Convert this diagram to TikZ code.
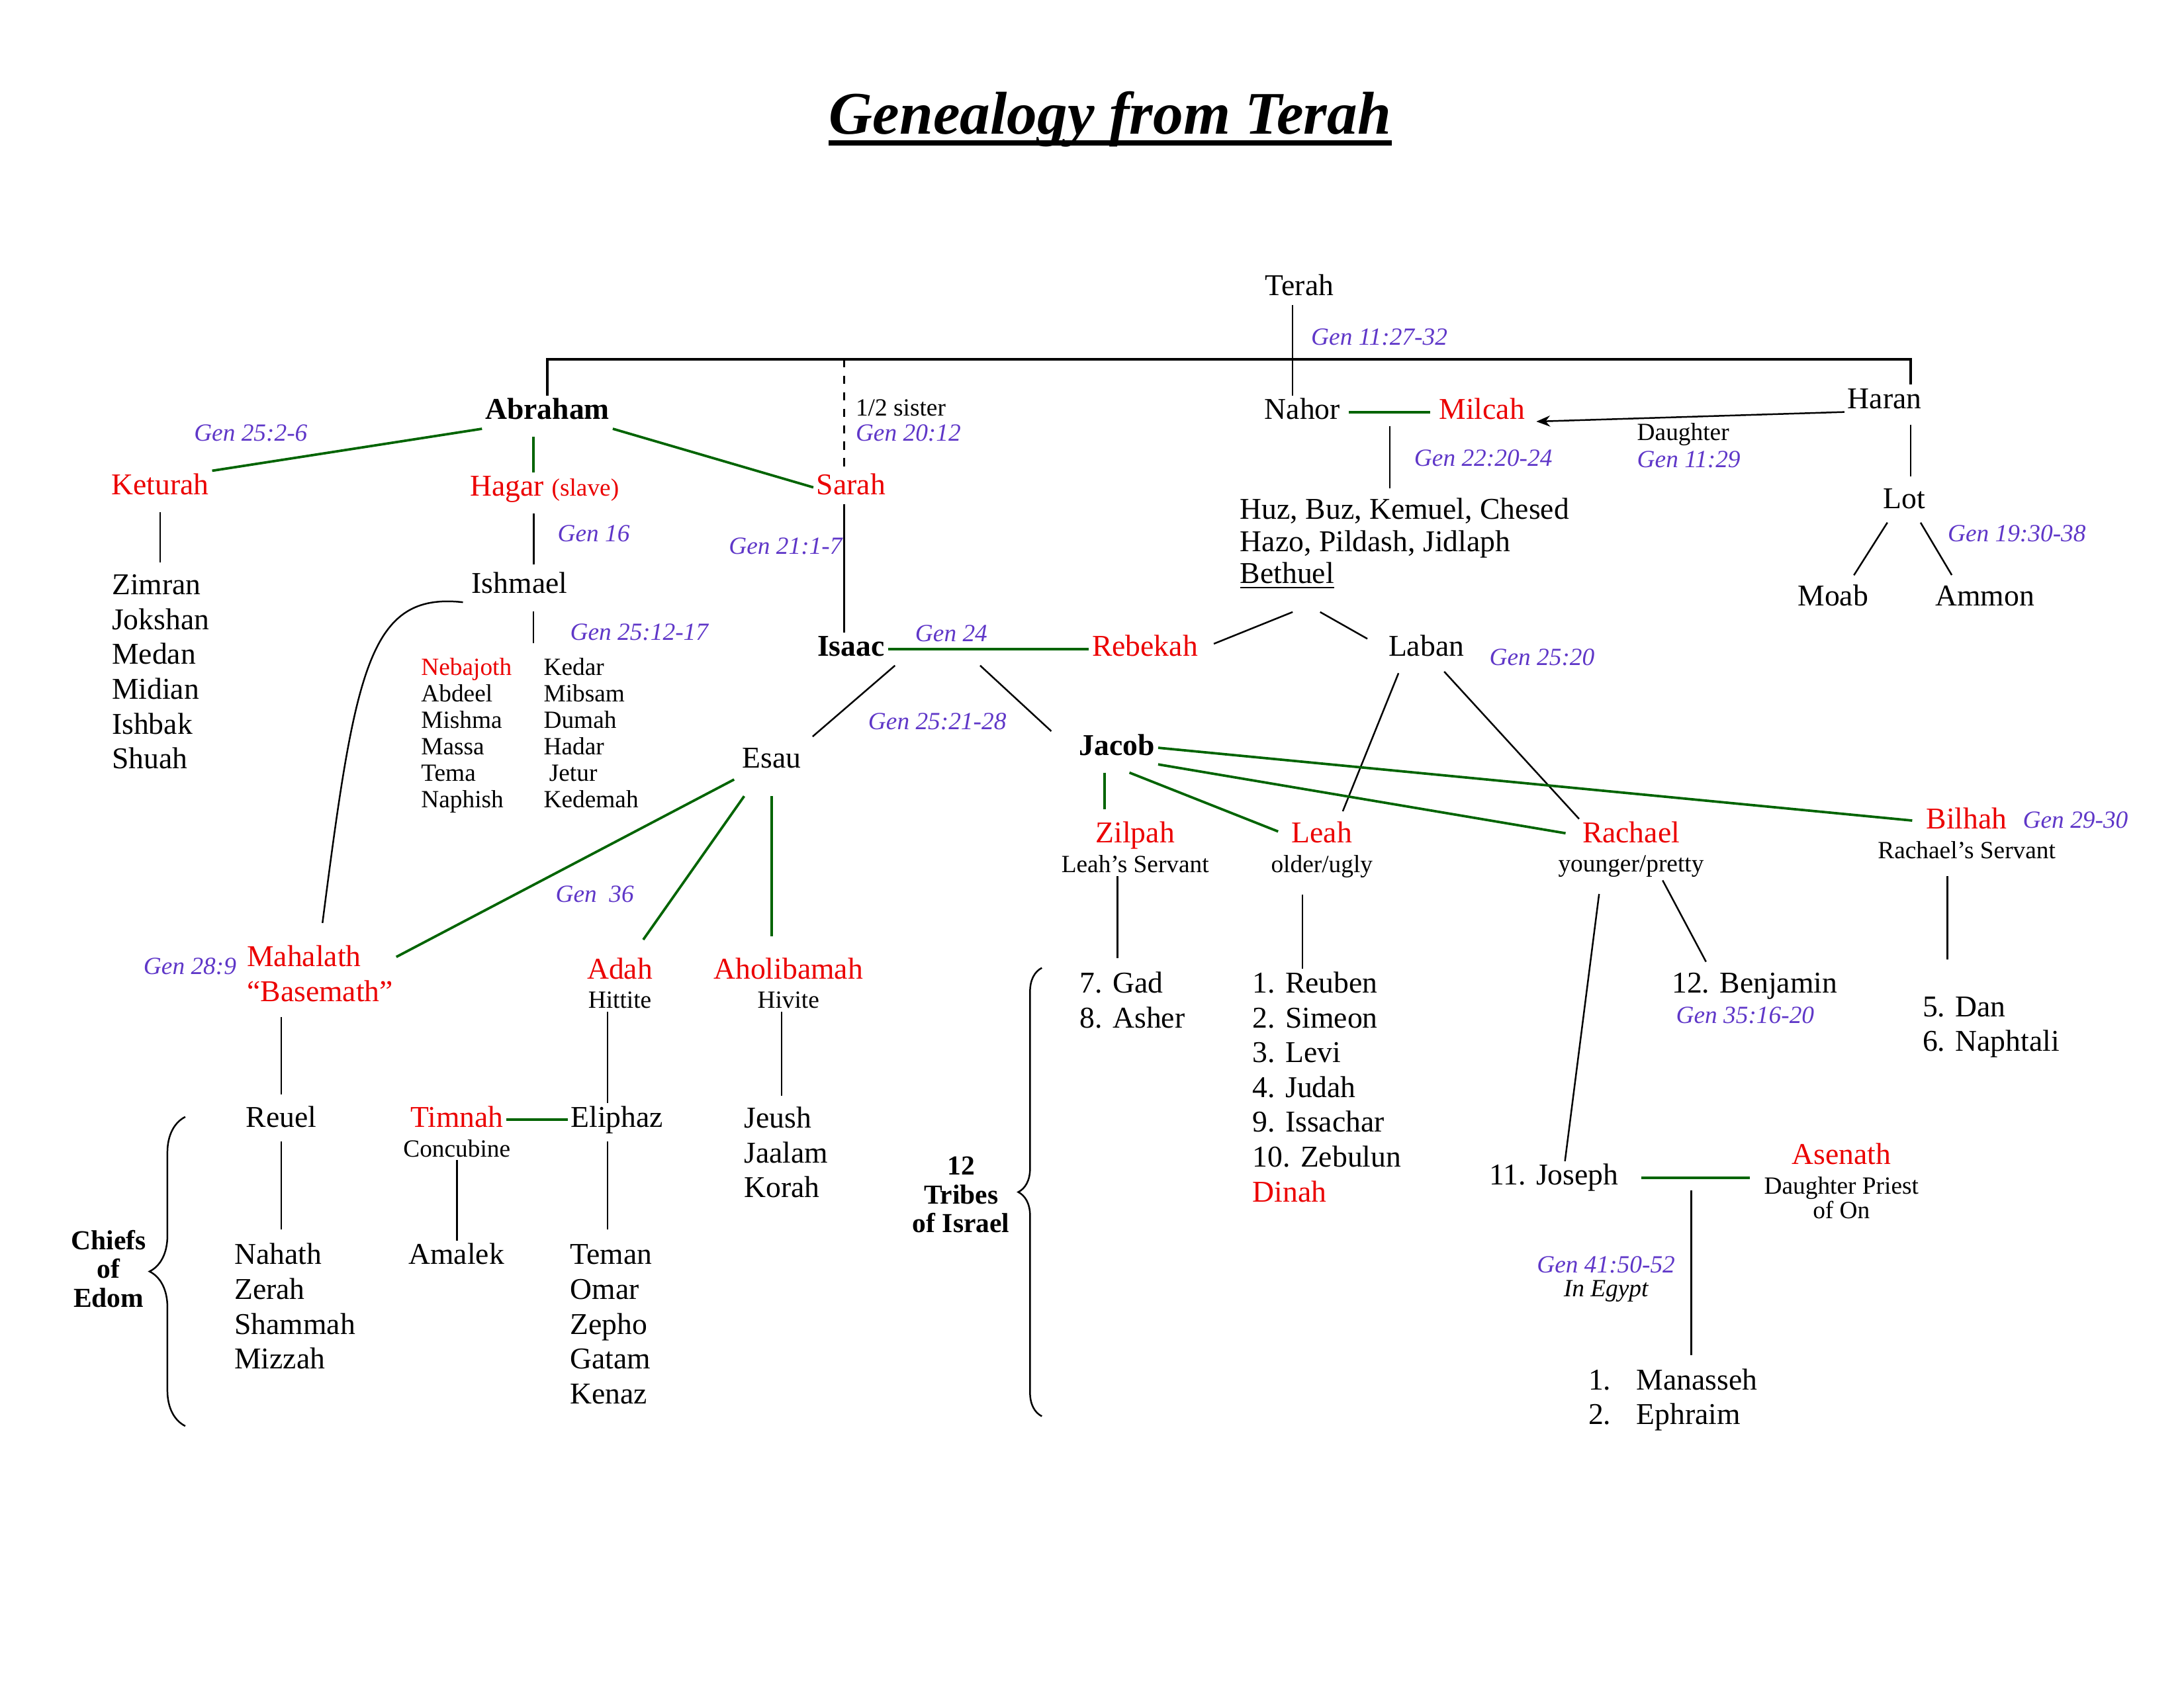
\documentclass[tikz,border=0pt]{standalone}
\usepackage{fontspec}
\setmainfont{Liberation Serif}
\usetikzlibrary{positioning,calc,arrows.meta,decorations.pathreplacing}
\definecolor{refblue}{RGB}{95,55,200}
\definecolor{wedgreen}{RGB}{0,100,0}
\definecolor{namered}{RGB}{235,0,0}
\newcommand\namesize{\fontsize{11}{12.7}\selectfont}
\newcommand\notesize{\fontsize{9}{9.6}\selectfont}
\newcommand\refsize{\fontsize{9}{10}\selectfont\itshape}
\newcommand\tagsize{\fontsize{10}{10.5}\selectfont\bfseries}

\begin{document}
\begin{tikzpicture}[x=0.017819cm, y=-0.017819cm,
    txt/.style={font=\namesize, inner sep=1pt},
    nm/.style={txt, text height=7.5pt, text depth=2.2pt},
    chief/.style={nm, font=\namesize\bfseries},
    wife/.style={nm, text=namered},
    item/.style={nm, anchor=base west},
    note/.style={font=\notesize, inner sep=1pt, align=center},
    ref/.style={font=\refsize, text=refblue, inner sep=1pt},
    kin/.style={line width=0.6pt},
    wed/.style={draw=wedgreen, line width=0.9pt},
    bar/.style={line width=1.1pt},
    bracket/.style={decorate, decoration={brace, amplitude=#1}, line width=0.6pt}]

  \useasboundingbox (0,0) rectangle (1568,1212);

  \node[inner sep=0, anchor=base, font=\fontsize{22}{26}\selectfont\bfseries\itshape] (title) at (797,96) {Genealogy from Terah};
  \draw[line width=1.9pt] ([yshift=-3.3pt]title.base west) -- ([yshift=-3.3pt]title.base east);
  \coordinate (fork) at (928,258);

  \begin{scope}[yshift=-1pt]
  % Terah and his sons
  \node[nm] (terah) at (933,205) {Terah};
  \node[ref, anchor=west] (refterah) at (939,240) {Gen 11:27-32};
  \node[chief] (abraham) at (393,294) {Abraham};
  \node[nm] (nahor) at (935,294) {Nahor};
  \node[wife] (milcah) at (1064,294) {Milcah};
  \node[nm] (haran) at (1353,286) {Haran};
  \node[note, anchor=west] (sister) at (612,291) {1/2 sister};
  \node[ref, anchor=west] (refsister) at (612,309) {Gen 20:12};
  \node[note, anchor=west] (daughter) at (1173,310) {Daughter};
  \node[ref, anchor=west] (refdaughter) at (1173,328) {Gen 11:29};
  \node[ref, anchor=west] (refnahor) at (1013,327) {Gen 22:20-24};

  % Abraham's wives
  \node[ref] (refketurah) at (180,309) {Gen 25:2-6};
  \node[wife] (keturah) at (115,348) {Keturah};
  \node[wife] (hagar) at (391,349) {Hagar {\notesize(slave)}};
  \node[wife] (sarah) at (611,348) {Sarah};
  \node[ref, anchor=west] (refhagar) at (398,381) {Gen 16};
  \node[ref] (refsarah) at (564,390) {Gen 21:1-7};
  \node[nm] (ishmael) at (373,419) {Ishmael};
  \node[ref, anchor=west] (refishmael) at (407,452) {Gen 25:12-17};

  \foreach \who [count=\i] in {Zimran, Jokshan, Medan, Midian, Ishbak, Shuah}
    \node[item] (zimran\i) at (78, 400+25*\i) {\who};

  \foreach \lft/\rgt [count=\i] in {{\color{namered}Nebajoth}/Kedar, Abdeel/Mibsam, Mishma/Dumah, Massa/Hadar, Tema/\hspace{2pt}Jetur, Naphish/Kedemah}{
    \node[item, font=\notesize] (sonl\i) at (300, 464+19*\i) {\lft};
    \node[item, font=\notesize] (sonr\i) at (388, 464+19*\i) {\rgt};
  }

  \foreach \who [count=\i] in {{Huz, Buz, Kemuel, Chesed}, {Hazo, Pildash, Jidlaph}, \underline{Bethuel}}
    \node[item] (huz\i) at (888, 348+23*\i) {\who};

  % Lot
  \node[nm] (lot) at (1367,358) {Lot};
  \node[ref, anchor=west] (reflot) at (1396,381) {Gen 19:30-38};
  \node[nm] (moab) at (1316,428) {Moab};
  \node[nm] (ammon) at (1425,428) {Ammon};

  % Isaac
  \node[chief] (isaac) at (611,464) {Isaac};
  \node[ref] (refisaac) at (683,453) {Gen 24};
  \node[wife] (rebekah) at (822,464) {Rebekah};
  \node[nm] (laban) at (1024,464) {Laban};
  \node[ref, anchor=west] (reflaban) at (1067,470) {Gen 25:20};
  \node[ref, anchor=west] (reftwins) at (621,516) {Gen 25:21-28};
  \node[nm] (esau) at (554,544) {Esau};
  \node[chief] (jacob) at (802,535) {Jacob};

  % Esau's line
  \node[ref] (refesau) at (427,640) {Gen\ \ 36};
  \node[ref, anchor=east] (refmahalath) at (172,692) {Gen 28:9};
  \node[txt, text=namered, align=left, anchor=west] (mahalath) at (175,697) {Mahalath\\“Basemath”};
  \node[wife] (adah) at (445,696) {Adah};
  \node[note, below=0pt of adah] (hittite) {Hittite};
  \node[wife] (aholibamah) at (566,696) {Aholibamah};
  \node[note, below=0pt of aholibamah] (hivite) {Hivite};
  \node[nm] (reuel) at (202,802) {Reuel};
  \node[wife] (timnah) at (328,802) {Timnah};
  \node[note, below=0pt of timnah] (concubine) {Concubine};
  \node[nm] (eliphaz) at (443,802) {Eliphaz};
  \node[item] (amalek) at (291,906) {Amalek};

  \foreach \who [count=\i] in {Jeush, Jaalam, Korah}
    \node[item] (jeush\i) at (532, 783+25*\i) {\who};
  \foreach \who [count=\i] in {Nahath, Zerah, Shammah, Mizzah}
    \node[item] (nahath\i) at (166, 881+25*\i) {\who};
  \foreach \who [count=\i] in {Teman, Omar, Zepho, Gatam, Kenaz}
    \node[item] (teman\i) at (407, 881+25*\i) {\who};

  \node[font=\tagsize, align=center, inner sep=1pt] (chiefs) at (78,909) {Chiefs\\of\\Edom};
  \node[font=\tagsize, align=center, inner sep=1pt] (tribes) at (690,856) {12\\Tribes\\of Israel};

  % Jacob's line
  \node[wife] (zilpah) at (815,598) {Zilpah};
  \node[note, below=0pt of zilpah] (zilpahnote) {Leah’s Servant};
  \node[wife] (leah) at (949,598) {Leah};
  \node[note, below=0pt of leah] (leahnote) {older/ugly};
  \node[wife] (rachael) at (1171,598) {Rachael};
  \node[note, below=0pt of rachael] (rachaelnote) {younger/pretty};
  \node[wife] (bilhah) at (1412,588) {Bilhah};
  \node[ref, anchor=west] (refbilhah) at (1450,587) {Gen 29-30};
  \node[note, below=0pt of bilhah] (bilhahnote) {Rachael’s Servant};

  \foreach \who [count=\i] in {7. Gad, 8. Asher}
    \node[item] (gad\i) at (773, 686+25*\i) {\who};
  \foreach \who [count=\i] in {1. Reuben, 2. Simeon, 3. Levi, 4. Judah, 9. Issachar, 10. Zebulun, \textcolor{namered}{Dinah}}
    \node[item] (reuben\i) at (897, 686+25*\i) {\who};
  \foreach \who [count=\i] in {5. Dan, 6. Naphtali}
    \node[item] (dan\i) at (1378, 703+25*\i) {\who};

  \node[item] (benjamin) at (1198,711) {12. Benjamin};
  \node[ref, anchor=west] (refbenjamin) at (1201,727) {Gen 35:16-20};
  \node[item] (joseph) at (1067,849) {11. Joseph};
  \node[wife] (asenath) at (1322,829) {Asenath};
  \node[note, below=0pt of asenath, font=\fontsize{9}{8.8}\selectfont] (asenathnote) {Daughter Priest\\of On};
  \node[ref] (refjoseph) at (1153,906) {Gen 41:50-52};
  \node[note, font=\notesize\itshape] (egypt) at (1153,925) {In Egypt};
  \foreach \who [count=\i] in {Manasseh, Ephraim}
    \node[item] (manasseh\i) at (1138, 971+25*\i) {\makebox[17.5pt][l]{\i.}\who};
  \end{scope}

  % connectors
  \draw[bar] (abraham.north) |- (fork) -| ([xshift=9.5pt]haran.north);
  \draw[kin] ([xshift=-2.5pt]terah.south) -- ([xshift=-2.5pt]terah.south |- nahor.north);
  \draw[kin, dash pattern=on 3pt off 3pt] ([xshift=-2.5pt]sarah.north |- fork) -- ([xshift=-2.5pt]sarah.north);
  \draw[kin] ([xshift=-2.5pt]sarah.south) -- ([xshift=-2.5pt]sarah.south |- isaac.north);

  \draw[wed] (abraham.south west) -- (keturah.north east);
  \draw[wed, shorten <=3pt] ([xshift=-5pt]abraham.south) -- ([xshift=-5pt]abraham.south |- hagar.north);
  \draw[wed] (abraham.south east) -- (sarah.west);
  \draw[kin, shorten <=3pt, shorten >=3pt] (keturah.south) -- (keturah.south |- zimran1.north);
  \draw[kin, shorten <=3pt, shorten >=2pt] ([xshift=-4pt]hagar.south) -- ([xshift=-4pt]hagar.south |- ishmael.north);
  \draw[kin, shorten <=3pt, shorten >=3pt] ([xshift=5pt]ishmael.south) -- ([xshift=5pt]ishmael.south |- sonl1.north);
  \draw[kin, shorten <=2pt, shorten >=7pt] (ishmael.south west) .. controls (265,425) and (255,480) .. (mahalath.north);

  \draw[wed] (isaac.east) -- (rebekah.west);
  \draw[wed, shorten <=2pt, shorten >=2pt] (nahor.east) -- (milcah.west);
  \coordinate (nahormilcah) at ($(nahor.east)!.5!(milcah.west)$);
  \draw[kin, shorten >=2.5pt] ([yshift=-5pt]nahormilcah) -- (nahormilcah |- huz1.north);
  \draw[kin, -{Stealth[length=5pt, width=4pt]}, shorten >=3pt] ([yshift=-4pt]haran.west) -- ([yshift=-3.5pt]milcah.east);
  \draw[kin, shorten <=2.5pt, shorten >=3pt] ([xshift=9.5pt]haran.south) -- ([xshift=9.5pt]haran.south |- lot.north);
  \draw[kin, shorten <=2pt, shorten >=3pt] ([xshift=-5pt]lot.south) -- ([xshift=6pt]moab.north);
  \draw[kin, shorten <=2pt, shorten >=3pt] ([xshift=5pt]lot.south) -- ([xshift=-10.5pt]ammon.north);
  \draw[kin, shorten >=5pt] ([xshift=2pt, yshift=-7pt]huz3.south) -- (rebekah.east);
  \draw[kin, shorten >=7.5pt] ([xshift=12pt, yshift=-7pt]huz3.south) -- (laban.west);
  \draw[kin, shorten <=3pt, shorten >=3pt] ([xshift=-9pt]laban.south) -- ([xshift=6.5pt]leah.north);
  \draw[kin, shorten <=3pt] ([xshift=4.5pt]laban.south) -- (rachael.north west);

  \draw[kin, shorten >=4pt] ([xshift=16pt]isaac.south) -- (esau.north east);
  \draw[kin] ([xshift=47pt]isaac.south) -- ([xshift=-9pt]jacob.north west);

  \draw[wed, shorten <=2pt] (esau.south west) -- ([yshift=6pt]mahalath.east);
  \draw[wed, shorten >=7pt] ([xshift=-10pt, yshift=-7pt]esau.south) -- ([xshift=4.5pt]adah.north);
  \draw[wed, shorten >=7pt] ([yshift=-7pt]esau.south) -- (esau.south |- aholibamah.north);
  \draw[kin, shorten <=4.5pt, shorten >=3pt] (reuel.north |- mahalath.south) -- (reuel.north);
  \draw[kin] ([xshift=-4.5pt]hittite.south) -- ([xshift=-4.5pt]hittite.south |- eliphaz.north);
  \draw[kin, shorten >=3pt] ([xshift=-2.5pt]hivite.south) -- ([xshift=-2.5pt]hivite.south |- jeush1.north);
  \draw[wed] (timnah.east) -- (eliphaz.west);
  \draw[kin, shorten <=2pt, shorten >=4pt] (reuel.south) -- (reuel.south |- nahath1.north);
  \draw[kin] (concubine.south) -- (concubine.south |- amalek.north);
  \draw[kin, shorten <=2pt, shorten >=4pt] ([xshift=-3.5pt]eliphaz.south) -- ([xshift=-3.5pt]eliphaz.south |- teman1.north);

  \draw[wed, shorten <=3pt, shorten >=3.5pt] ([xshift=-4.5pt]jacob.south) -- ([xshift=-4.5pt]jacob.south |- zilpah.north);
  \draw[wed, shorten >=4pt] ([xshift=4.5pt, yshift=-3pt]jacob.south) -- (leah.west);
  \draw[wed, shorten >=5pt] (jacob.south east) -- (rachael.west);
  \draw[wed, shorten >=4pt] (jacob.east) -- (bilhah.west);
  \draw[kin, shorten >=4pt] ([xshift=-6.5pt]zilpahnote.south) -- ([xshift=-6.5pt]zilpahnote.south |- gad1.north);
  \draw[kin, shorten <=5pt] ([xshift=-7pt]leahnote.south) -- ([xshift=-7pt]leahnote.south |- reuben1.north);
  \draw[kin, shorten <=5pt] ([xshift=-11pt]rachaelnote.south) -- ([xshift=4pt]joseph.north);
  \draw[kin, shorten >=3pt] ([xshift=11.5pt]rachaelnote.south) -- ([xshift=15pt]benjamin.north west);
  \draw[kin, shorten <=5pt, shorten >=12pt] ([xshift=-7pt]bilhahnote.south) -- ([xshift=-7pt]bilhahnote.south |- dan1.north);
  \draw[wed, shorten <=7pt, shorten >=4pt] (joseph.east) -- (joseph.east -| asenathnote.west);
  \coordinate (josephasenath) at ($(joseph.east)!.5!(joseph.east -| asenathnote.west)$);
  \draw[kin, shorten >=4pt] ([yshift=-4.5pt]josephasenath) -- (josephasenath |- manasseh1.north);

  \draw[bracket=13pt] (133,1024) -- (133,802);
  \draw[bracket=8.6pt] (748,1017) -- (748,695);
\end{tikzpicture}
\end{document}
